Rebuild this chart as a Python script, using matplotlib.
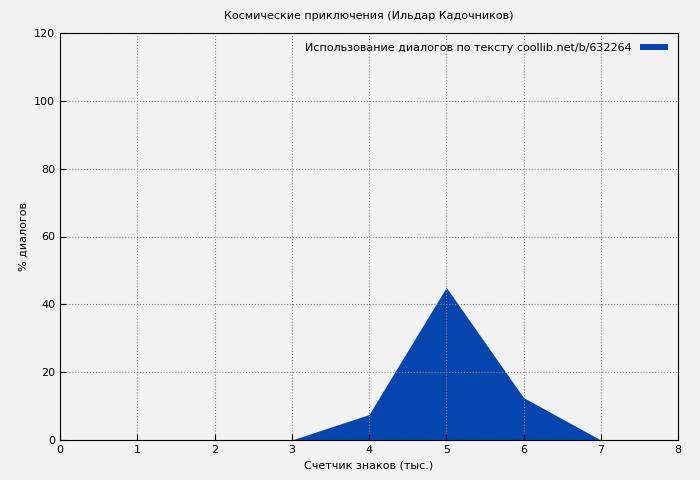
import matplotlib
matplotlib.use("Agg")
import matplotlib.pyplot as plt

# dialogue share per thousand characters
x_thousands = [0, 1, 2, 3, 4, 5, 6, 7]
dialog_pct = [0, 0, 0, 0, 7.5, 45, 12.5, 0]

fig = plt.figure(figsize=(7, 4.8), dpi=100, facecolor="#f2f2f2")
ax = fig.add_axes([60 / 700, 40 / 480, 618 / 700, 407 / 480])
ax.set_facecolor("#f2f2f2")

ax.fill_between(x_thousands, dialog_pct, color="#0645ad", linewidth=0,
                label="Использование диалогов по тексту coollib.net/b/632264")

ax.set_xlim(0, 8)
ax.set_ylim(0, 120)
ax.set_xticks(range(0, 9))
ax.set_yticks(range(0, 121, 20))
ax.grid(True, color="#888888", linestyle=":", linewidth=0.8)
ax.tick_params(labelsize=8, direction="in", length=4)
for s in ax.spines.values():
    s.set_color("black")

ax.set_title("Космические приключения (Ильдар Кадочников)", fontsize=8, pad=10)
ax.set_xlabel("Счетчик знаков (тыс.)", fontsize=8)
ax.set_ylabel("% диалогов", fontsize=8)

leg = ax.legend(loc="upper right", fontsize=8, frameon=False, markerfirst=False,
                handlelength=2.5, handleheight=0.4)

fig.savefig("out.png", dpi=100, facecolor=fig.get_facecolor())
